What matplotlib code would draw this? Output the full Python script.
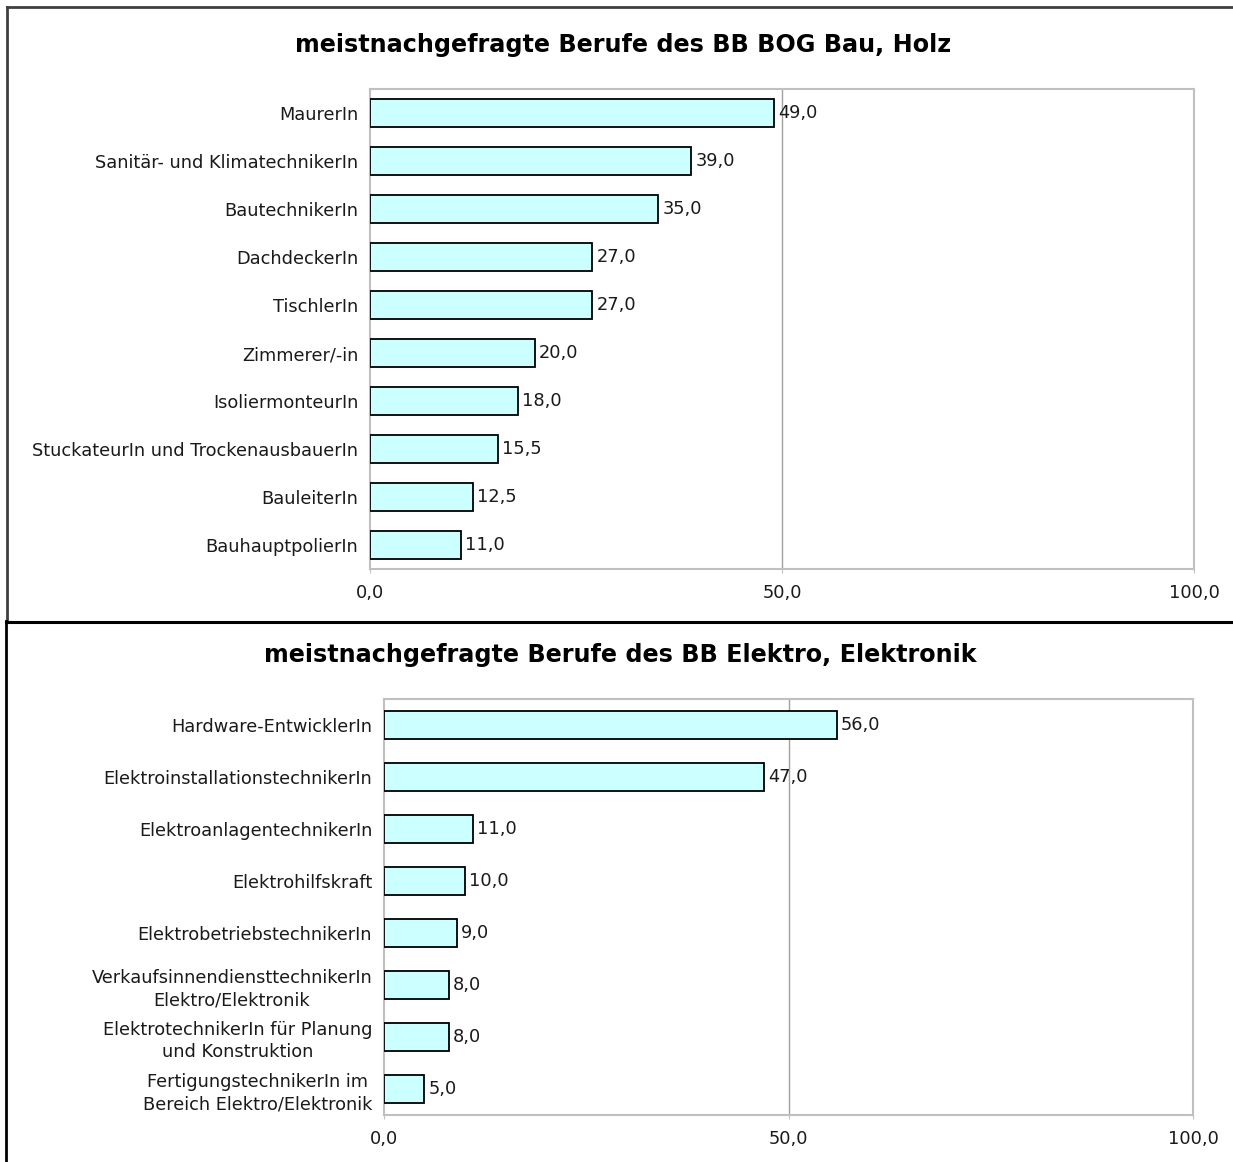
import matplotlib
matplotlib.use("Agg")
import matplotlib.pyplot as plt
from matplotlib.lines import Line2D

plt.rcParams['font.family'] = ['DejaVu Sans']

title_top = "meistnachgefragte Berufe des BB BOG Bau, Holz"
cats_top = ["MaurerIn", "Sanitär- und KlimatechnikerIn", "BautechnikerIn", "DachdeckerIn",
            "TischlerIn", "Zimmerer/-in", "IsoliermonteurIn",
            "StuckateurIn und TrockenausbauerIn", "BauleiterIn", "BauhauptpolierIn"]
vals_top = [49.0, 39.0, 35.0, 27.0, 27.0, 20.0, 18.0, 15.5, 12.5, 11.0]

title_bot = "meistnachgefragte Berufe des BB Elektro, Elektronik"
cats_bot = ["Hardware-EntwicklerIn", "ElektroinstallationstechnikerIn",
            "ElektroanlagentechnikerIn", "Elektrohilfskraft", "ElektrobetriebstechnikerIn",
            "VerkaufsinnendiensttechnikerIn\nElektro/Elektronik",
            "ElektrotechnikerIn für Planung\nund Konstruktion",
            "FertigungstechnikerIn im\nBereich Elektro/Elektronik"]
vals_bot = [56.0, 47.0, 11.0, 10.0, 9.0, 8.0, 8.0, 5.0]

xticks = [0, 50, 100]
xticklabels = ["0,0", "50,0", "100,0"]

W, H = 1233, 1162
fig = plt.figure(figsize=(W / 100, H / 100), dpi=100)
fig.patch.set_facecolor('white')

FS = 12.8


def px_axes(left, top, right, bottom):
    return fig.add_axes([left / W, 1 - bottom / H, (right - left) / W, (bottom - top) / H])


def draw(ax, cats, vals, bar_h):
    n = len(cats)
    ys = list(range(n))
    ax.barh(ys, vals, height=bar_h, color='#CCFFFF', edgecolor='black', linewidth=1.3, zorder=3)
    ax.set_xlim(0, 100)
    ax.set_ylim(n - 0.5, -0.5)
    ax.set_yticks(ys)
    ax.set_yticklabels(cats, fontsize=FS, multialignment='center', color='#1a1a1a', linespacing=1.3)
    ax.tick_params(axis='y', length=0, pad=8.5)
    ax.set_xticks(xticks)
    ax.set_xticklabels(xticklabels, fontsize=FS, color='#1a1a1a')
    ax.tick_params(axis='x', length=3, color='#c0c0c0', pad=7.5, direction='out')
    ax.axvline(50, color='#a0a0a0', linewidth=1, zorder=1)
    for s in ax.spines.values():
        s.set_color('#c0c0c0')
        s.set_linewidth(1.5)
    for y, v in zip(ys, vals):
        ax.text(v + 0.5, y, f"{v:.1f}".replace('.', ','), va='center', ha='left',
                fontsize=FS, color='#1a1a1a', zorder=4)


ax1 = px_axes(370, 89, 1194, 569)
draw(ax1, cats_top, vals_top, 0.58)
ax2 = px_axes(384, 699, 1193, 1115)
draw(ax2, cats_bot, vals_bot, 0.54)

fig.text(623 / W, 1 - 45 / H, title_top, ha='center', va='center', fontsize=17.2, fontweight='bold')
fig.text(620 / W, 1 - 655 / H, title_bot, ha='center', va='center', fontsize=17.2, fontweight='bold')


def fline(x0, y0, x1, y1, color, lw):
    fig.add_artist(Line2D([x0 / W, x1 / W], [1 - y0 / H, 1 - y1 / H], color=color, linewidth=lw,
                          transform=fig.transFigure))


fline(7, 7, 1240, 7, '#404040', 2)
fline(7, 7, 7, 622, '#404040', 2)
fline(6, 621.5, 1240, 621.5, 'black', 2.2)
fline(6, 621, 6, 1170, 'black', 2)

fig.savefig("out.png", dpi=100)
